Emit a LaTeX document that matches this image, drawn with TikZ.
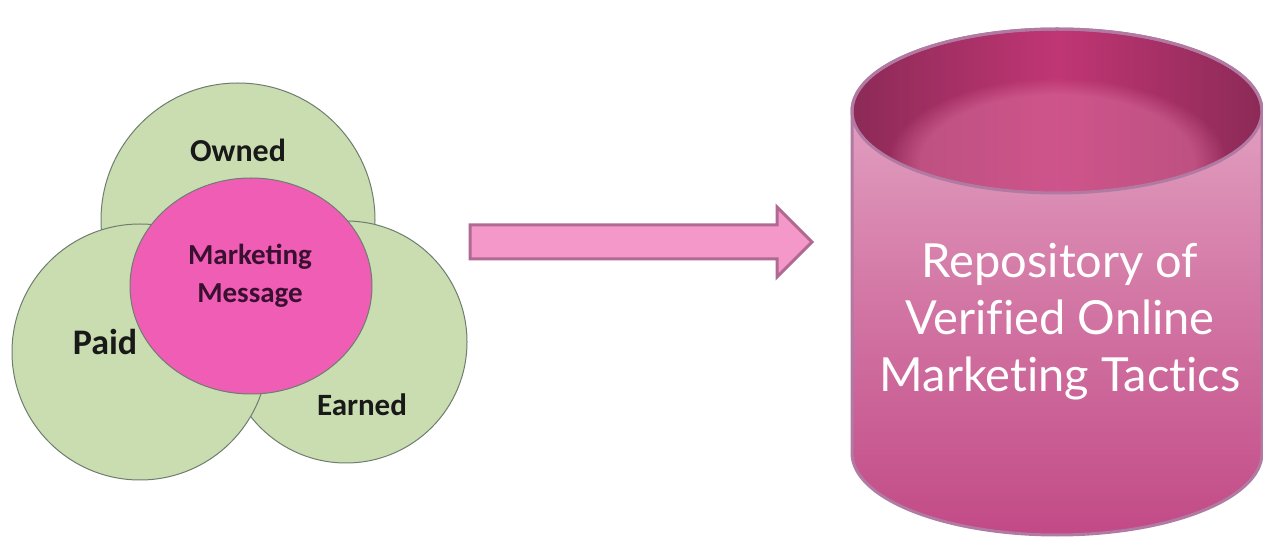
\documentclass[tikz,border=0pt]{standalone}
\usepackage{fontspec}
\setmainfont{Carlito}
\newfontfamily\repfont[Ligatures=NoCommon]{Lato}
\usetikzlibrary{fadings,shapes.geometric}
\definecolor{vgreen}{HTML}{C9DDB0}
\definecolor{vgreenline}{HTML}{6E7D70}
\definecolor{vpink}{HTML}{F05DB5}
\definecolor{arrfill}{HTML}{F497C9}
\definecolor{arrline}{HTML}{B06A92}
\definecolor{cylline}{HTML}{B07AA3}
\definecolor{cyltop}{HTML}{E8B0CC}
\definecolor{cylmid}{HTML}{D47AA7}
\definecolor{cylbot}{HTML}{C24A86}
\definecolor{innerdark}{HTML}{8C2A57}
\definecolor{innermid}{HTML}{C03674}
\definecolor{innerlight}{HTML}{DA6E9E}
\definecolor{msgtext}{HTML}{3A1030}
\tikzset{
  venn/.style={circle, draw=vgreenline, line width=1pt, fill=vgreen, inner sep=0pt},
  vlabel/.style={font=\bfseries, text=black!90, inner sep=0pt},
}
\begin{document}
\begin{tikzpicture}[x=1pt,y=1pt]
\useasboundingbox (0,0) rectangle (1263,538);
% Venn circles
\node[venn, minimum size=274pt] (owned) at (238,318) {};
\node[venn, minimum size=242pt] (earned) at (346,196) {};
\node[venn, minimum size=256pt] (paid) at (140,186) {};
\node[ellipse, draw=vgreenline, line width=1pt, fill=vpink, minimum width=242pt, minimum height=216pt, inner sep=0pt] (msg) at (251,252) {};
\node[vlabel, font=\bfseries\fontsize{32}{36}\selectfont] (tOwned) at (238,388) {Owned};
\node[vlabel, font=\bfseries\fontsize{36}{40}\selectfont] (tPaid) at (105,196) {Paid};
\node[vlabel, font=\bfseries\fontsize{31}{36}\selectfont] (tEarned) at (362,133) {Earned};
\node[vlabel, text=msgtext, font=\bfseries\fontsize{29}{38}\selectfont, align=center] (tMsg) at (250,262) {Marketing\\Message};
% Arrow
\draw[arrline, fill=arrfill, line width=3pt, line join=miter]
  (470,313) -- (777,313) -- (777,331) -- (812,296) -- (777,261) -- (777,279) -- (470,279) -- cycle;
% Cylinder body
\shade[top color=cyltop, bottom color=cylbot, middle color=cylmid]
  (852,427) -- (852,85) arc[start angle=180, end angle=360, x radius=205, y radius=82]
  -- (1262,427) arc[start angle=0, end angle=180, x radius=205, y radius=82] -- cycle;
% inner top
\shade[left color=innerdark, right color=innerdark, middle color=innermid]
  (1057,427) ellipse [x radius=205, y radius=82];
\begin{scope}
\clip (1057,427) ellipse [x radius=205, y radius=82];
\fill[innerlight, path fading=circle with fuzzy edge 20 percent, fill opacity=0.55]
  (1057,375) ellipse [x radius=170, y radius=85];
\end{scope}
\draw[cylline, line width=3pt]
  (852,427) -- (852,85) arc[start angle=180, end angle=360, x radius=205, y radius=82]
  -- (1262,427) arc[start angle=0, end angle=180, x radius=205, y radius=82] -- cycle;
\draw[cylline, line width=3pt] (1057,427) ellipse [x radius=205, y radius=82];
\node[text=white, align=center, font=\repfont\fontsize{47}{57}\selectfont] (rep) at (1060,216)
  {Repository of\\Verified Online\\Marketing Tactics};
\end{tikzpicture}
\end{document}
